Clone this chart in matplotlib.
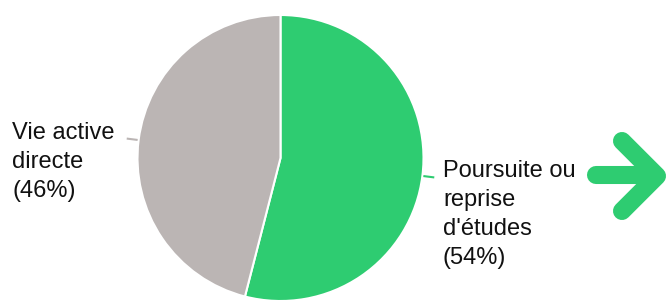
import numpy as np
import matplotlib
matplotlib.use('Agg')
import matplotlib.pyplot as plt

# données du graphique
categories = ["Poursuite ou\nreprise\nd'études", "Vie active\ndirecte"]
values = [54, 46]
colors = ['#2ecc71', '#bbb5b4']

plt.rcParams['font.family'] = ['Liberation Sans', 'DejaVu Sans']

W, H = 666, 300
fig = plt.figure(figsize=(W / 100, H / 100), dpi=100)
ax = fig.add_axes([0, 0, 1, 1])

cx, cy, r = 280.5, H - 158, 143
wedges, _ = ax.pie(values, colors=colors, startangle=90, counterclock=False,
                   center=(cx, cy), radius=r, frame=True,
                   wedgeprops=dict(edgecolor='white', linewidth=1.5))
ax.set_xlim(0, W)
ax.set_ylim(0, H)
ax.set_aspect('equal')
ax.axis('off')

# petits traits de liaison + étiquettes (baseline de la dernière ligne)
label_pos = [(443, H - 264), (12, H - 197)]
for w, lab, val, col, (tx, ty) in zip(wedges, categories, values, colors, label_pos):
    ang = np.deg2rad((w.theta1 + w.theta2) / 2)
    x0, y0 = cx + (r + 1) * np.cos(ang), cy + (r + 1) * np.sin(ang)
    x1, y1 = cx + (r + 12) * np.cos(ang), cy + (r + 12) * np.sin(ang)
    ax.plot([x0, x1], [y0, y1], color=col, lw=1.5, solid_capstyle='butt')
    ax.text(tx, ty, f"{lab}\n({val}%)", fontsize=17, color='#111111',
            ha='left', va='baseline', linespacing=1.42)

# flèche décorative à droite
green = '#2ecc71'
ax.plot([596, 652], [H - 175, H - 175], color=green, lw=13, solid_capstyle='round')
ax.plot([622, 657, 622], [H - 141, H - 176, H - 211], color=green, lw=13,
        solid_capstyle='round', solid_joinstyle='round')

fig.savefig('out.png', dpi=100)
